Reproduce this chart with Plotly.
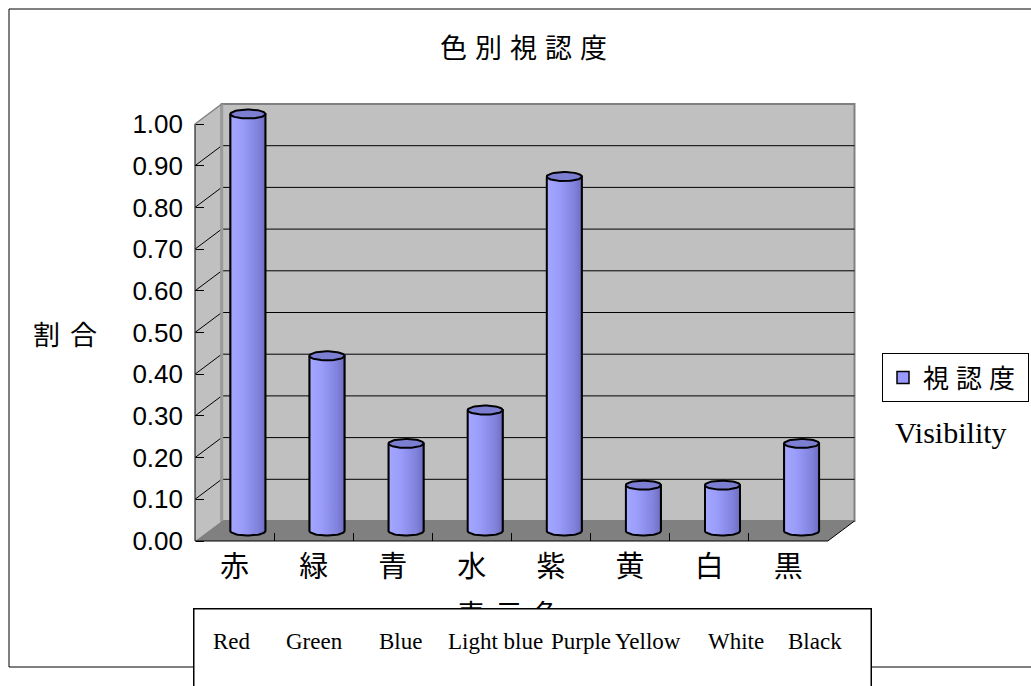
import numpy as np
import plotly.graph_objects as go

# ---------------- data ----------------
categories = ["赤", "緑", "青", "水", "紫", "黄", "白", "黒"]
english_labels = ["Red", "Green", "Blue", "Light blue", "Purple", "Yellow", "White", "Black"]
visibility = [1.00, 0.42, 0.21, 0.29, 0.85, 0.11, 0.11, 0.21]
y_ticks = [0.0, 0.1, 0.2, 0.3, 0.4, 0.5, 0.6, 0.7, 0.8, 0.9, 1.0]
series_name = "視認度"
title_text = "色別視認度"
y_title = "割合"
x_title = "表示色"
legend_note = "Visibility"

# ---------------- layout geometry (pixels) ----------------
W, H = 1031, 686
H_EFF = 677.0                    # effective vertical pixel scale observed in rendering
X0_PX, CAT_PX = 195.0, 79.1      # front-left corner of floor, width per category
Y0_PX, UNIT_PX = 541.0, 417.0    # front y=0 position, pixels per 1.0
DX_PX, DY_PX = 26.7, 20.0        # 3-D depth offset
n = len(categories)
DX = DX_PX / CAT_PX
DY = DY_PX / UNIT_PX
xr = [-0.5 - 4 / CAT_PX, n - 0.5 + DX + 4 / CAT_PX]
yr = [-6 / UNIT_PX, 1 + DY + 6 / UNIT_PX]


def xpx(v):
    return X0_PX + (v + 0.5) * CAT_PX


def ypx(v):
    return Y0_PX - v * UNIT_PX


def fx(p):
    return p / W


def fy(p):
    return 1 - p / H_EFF


xdom = [fx(xpx(xr[0])), fx(xpx(xr[1]))]
ydom = [fy(ypx(yr[0])), fy(ypx(yr[1]))]

RX = 17.5 / CAT_PX
RY = 4.5 / UNIT_PX
BASE = DY / 2
xc = [i + DX / 2 for i in range(n)]

CJK = "Noto Sans CJK JP"
fig = go.Figure()

# data bars (legend entry)
fig.add_trace(go.Bar(
    x=xc, y=visibility, base=[BASE] * n, width=2 * RX, name=series_name,
    marker=dict(color="#9999FF", line=dict(color="black", width=1.5)),
    showlegend=True,
))

grad = dict(type="horizontal",
            colorscale=[[0, "#a4a7ff"], [0.35, "#9a9cfa"], [0.55, "#8f90ee"],
                        [0.8, "#8081da"], [1, "#6d6dc2"]])
t_low = np.linspace(0, np.pi, 30)
t_full = np.linspace(0, 2 * np.pi, 60)
for cx, v in zip(xc, visibility):
    top = BASE + v
    bx = [cx - RX, cx + RX, cx + RX] + list(cx + RX * np.cos(t_low)) + [cx - RX]
    by = [top, top, BASE] + list(BASE - RY * np.sin(t_low)) + [top]
    fig.add_trace(go.Scatter(x=bx, y=by, mode="lines", fill="toself", fillgradient=grad,
                             line=dict(color="black", width=2), showlegend=False,
                             hoverinfo="skip"))
    ex = list(cx + RX * np.cos(t_full))
    ey = list(top + RY * np.sin(t_full))
    fig.add_trace(go.Scatter(x=ex, y=ey, mode="lines", fill="toself", fillcolor="#7c7ed2",
                             line=dict(color="black", width=2), showlegend=False,
                             hoverinfo="skip"))

# ---------------- 3-D box decoration ----------------
L, R = -0.5, n - 0.5
shapes = []
shapes.append(dict(type="path", xref="x", yref="y", layer="below",
                   path=f"M{L},{0} L{L},{1} L{L+DX},{1+DY} L{L+DX},{DY} Z",
                   fillcolor="#C0C0C0", line=dict(width=0)))
shapes.append(dict(type="rect", xref="x", yref="y", layer="below",
                   x0=L + DX, x1=R + DX, y0=DY, y1=1 + DY,
                   fillcolor="#C0C0C0", line=dict(color="#808080", width=2)))
shapes.append(dict(type="path", xref="x", yref="y", layer="below",
                   path=f"M{L},{0} L{R},{0} L{R+DX},{DY} L{L+DX},{DY} Z",
                   fillcolor="#808080", line=dict(width=0)))
for t in y_ticks[1:-1]:
    shapes.append(dict(type="line", xref="x", yref="y", layer="below",
                       x0=L + DX, x1=R + DX, y0=t + DY, y1=t + DY,
                       line=dict(color="black", width=1)))
    shapes.append(dict(type="line", xref="x", yref="y", layer="below",
                       x0=L, x1=L + DX, y0=t, y1=t + DY,
                       line=dict(color="black", width=1)))
shapes.append(dict(type="line", xref="x", yref="y", layer="below",
                   x0=L + DX, x1=L + DX, y0=DY, y1=1 + DY,
                   line=dict(color="#9a9a9a", width=3)))
shapes.append(dict(type="line", xref="x", yref="y", layer="below",
                   x0=L, x1=L + DX, y0=1, y1=1 + DY, line=dict(color="#808080", width=1.5)))
shapes.append(dict(type="line", xref="x", yref="y", layer="below",
                   x0=L, x1=L, y0=0, y1=1, line=dict(color="black", width=1)))
shapes.append(dict(type="line", xref="x", yref="y", layer="below",
                   x0=L, x1=R, y0=0, y1=0, line=dict(color="black", width=1)))
shapes.append(dict(type="line", xref="x", yref="y", layer="below",
                   x0=R, x1=R + DX, y0=0, y1=DY, line=dict(color="black", width=1)))
# outer chart border
shapes.append(dict(type="rect", xref="paper", yref="paper",
                   x0=fx(9), x1=1.02, y0=fy(667), y1=fy(9),
                   line=dict(color="black", width=1), fillcolor="rgba(0,0,0,0)"))


def sp(text, px):
    return f'<span style="letter-spacing:{px}px">{text}</span>'


annotations = [
    dict(text=sp(title_text, 8), x=fx(527), y=fy(47), xref="paper", yref="paper",
         showarrow=False, xanchor="center", yanchor="middle",
         font=dict(family=CJK, size=27, color="black")),
    dict(text=sp(y_title, 10), x=fx(70), y=fy(333), xref="paper", yref="paper",
         showarrow=False, xanchor="center", yanchor="middle",
         font=dict(family=CJK, size=27, color="black")),
    # x-axis title, mostly hidden behind the text box below (as in the original)
    dict(text=sp(x_title, 10), x=fx(514), y=fy(613), xref="paper", yref="paper",
         showarrow=False, xanchor="center", yanchor="middle",
         font=dict(family=CJK, size=28, color="black")),
    dict(text="\u00a0", x=fx(193), y=fy(608), xref="paper", yref="paper",
         showarrow=False, xanchor="left", yanchor="top", width=676, height=110,
         bgcolor="white", bordercolor="black", borderwidth=1.5, borderpad=0,
         font=dict(size=10)),
    dict(text=legend_note, x=fx(951), y=fy(432), xref="paper", yref="paper",
         showarrow=False, xanchor="center", yanchor="middle",
         font=dict(family="Liberation Serif, Times New Roman", size=30, color="black")),
]
en_centers = [232, 314, 400, 495, 581, 648, 736, 815]
for lab, cxp in zip(english_labels, en_centers):
    annotations.append(dict(text=lab, x=fx(cxp), y=fy(641), xref="paper", yref="paper",
                            showarrow=False, xanchor="center", yanchor="middle",
                            font=dict(family="Liberation Serif, Times New Roman", size=23,
                                      color="black")))

fig.update_layout(
    width=W, height=H, autosize=False,
    margin=dict(l=0, r=0, t=0, b=0, pad=0),
    paper_bgcolor="white", plot_bgcolor="rgba(0,0,0,0)",
    shapes=shapes, annotations=annotations,
    showlegend=True,
    legend=dict(x=fx(882), y=fy(353), xanchor="left", yanchor="top",
                bgcolor="white", bordercolor="black", borderwidth=1,
                font=dict(family=CJK, size=26, color="black")),
    xaxis=dict(range=xr, domain=xdom, anchor="free", position=fy(Y0_PX),
               tickmode="array", tickvals=list(range(n)), ticktext=categories,
               ticks="", showgrid=False, zeroline=False, showline=False,
               tickfont=dict(family=CJK, size=29, color="black"), ticklabelstandoff=6,
               minor=dict(tickmode="array", tickvals=[i + 0.5 for i in range(n - 1)],
                          ticks="inside", ticklen=8, tickcolor="black", tickwidth=1,
                          showgrid=False),
               fixedrange=True),
    yaxis=dict(range=yr, domain=ydom, anchor="free", position=fx(X0_PX),
               tickmode="array", tickvals=y_ticks,
               ticktext=[f"{v:.2f}" for v in y_ticks],
               ticks="inside", ticklen=8, tickcolor="black", tickwidth=1,
               showgrid=False, zeroline=False, showline=False,
               tickfont=dict(family="Liberation Sans, Arial", size=26, color="black"),
               ticklabelstandoff=12, fixedrange=True),
)
fig.data[0].name = sp(series_name, 7)

fig.write_html("out.html")
